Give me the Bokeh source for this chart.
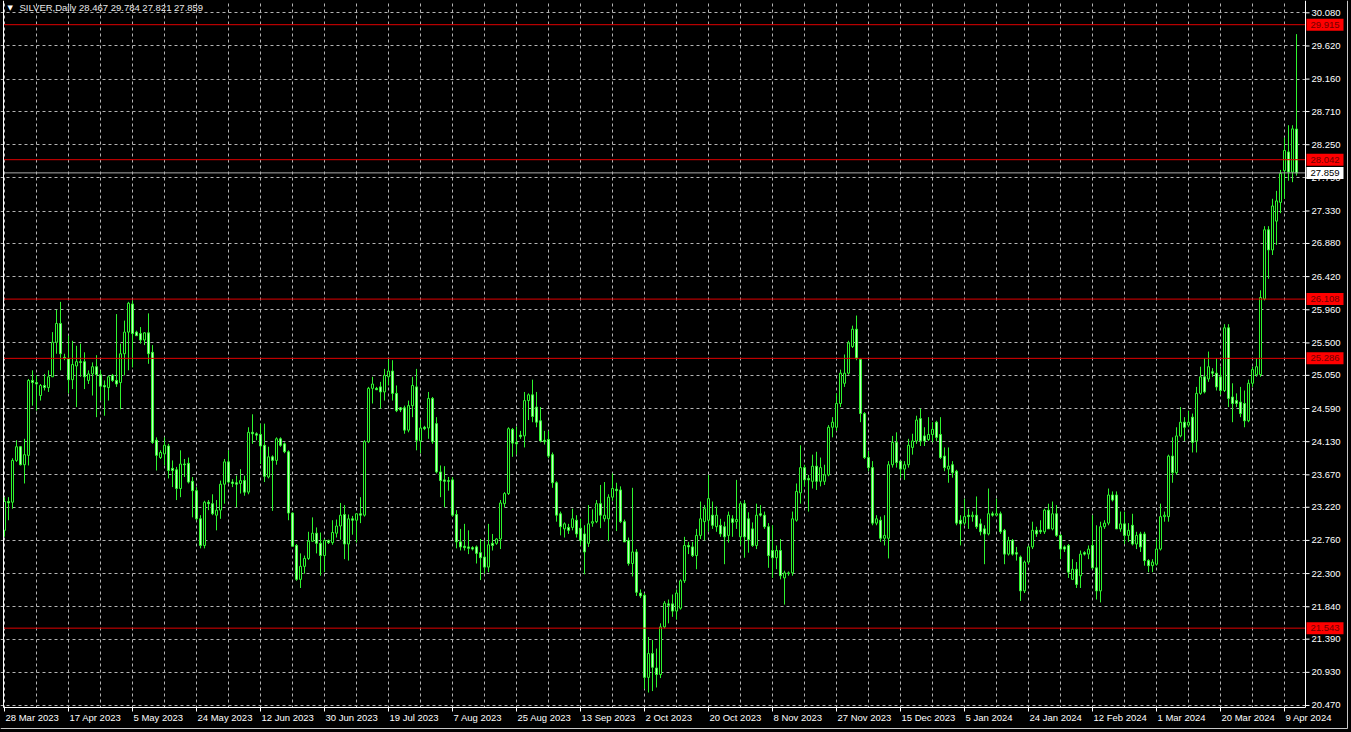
from bokeh.plotting import figure
from bokeh.models import (ColumnDataSource, FixedTicker, Range1d, Grid,
                          GlobalInlineStyleSheet)
from bokeh.core.properties import value
from bokeh.embed import file_html
from bokeh.resources import INLINE

# ---------------- data (daily OHLC) ----------------
opens = [22.90, 23.30, 23.29, 23.87, 24.06, 23.81, 23.94, 24.98, 24.95, 24.77,
         24.91, 24.88, 25.03, 25.51, 25.77, 25.30, 25.28, 24.99, 25.18, 25.24,
         25.24, 24.98, 25.07, 25.17, 25.06, 24.91, 24.88, 25.05, 24.98, 24.95,
         25.35, 25.65, 26.04, 25.65, 25.63, 25.54, 25.64, 25.37, 24.15, 23.91,
         23.96, 24.07, 23.76, 23.74, 23.48, 23.82, 23.83, 23.58, 23.45, 23.06,
         22.69, 23.29, 23.27, 23.11, 23.18, 23.54, 23.85, 23.57, 23.56, 23.55,
         23.59, 23.43, 24.26, 24.24, 24.23, 24.08, 23.64, 23.92, 23.87, 24.17,
         24.10, 23.99, 23.14, 22.69, 22.22, 22.40, 22.51, 22.75, 22.86, 22.72,
         22.55, 22.76, 22.73, 22.86, 22.96, 23.12, 22.71, 23.06, 23.04, 23.13,
         23.11, 24.13, 24.87, 24.87, 24.89, 24.82, 25.03, 25.11, 24.80, 24.60,
         24.60, 24.29, 24.63, 24.89, 24.14, 24.33, 24.32, 24.73, 24.38, 23.71,
         23.60, 23.59, 23.60, 23.12, 22.74, 22.68, 22.67, 22.66, 22.67, 22.59,
         22.53, 22.39, 22.72, 22.72, 22.78, 23.27, 23.41, 24.30, 24.12,
         24.22, 24.21, 24.70, 24.78, 24.61, 24.42, 24.15, 24.16, 23.95, 23.56,
         23.13, 22.92, 22.94, 22.94, 23.04, 22.93, 22.85, 22.72, 23.00, 23.02,
         23.27, 23.06, 23.06, 23.36, 23.47, 23.46, 23.02, 22.76, 22.44, 22.60,
         22.03, 22.00, 20.86, 21.19, 20.99, 20.90, 21.56, 21.88, 21.88, 21.78,
         21.82, 22.20, 22.69, 22.67, 22.55, 22.83, 23.02, 23.04, 23.11, 22.95,
         22.97, 22.95, 22.83, 23.06, 23.02, 22.81, 23.27, 23.06, 22.92, 22.69,
         23.13, 23.11, 22.95, 22.62, 22.52, 22.62, 22.24, 22.30, 22.31, 23.04,
         23.42, 23.77, 23.62, 23.58, 23.79, 23.58, 23.58, 23.67, 24.33, 24.33,
         24.66, 24.94, 25.08, 25.45, 25.69, 25.27, 24.52, 23.91, 23.77, 23.00,
         23.04, 22.79, 22.79, 23.81, 24.12, 23.86, 23.75, 23.81, 24.05, 24.14,
         24.45, 24.21, 24.16, 24.23, 24.40, 24.23, 23.93, 23.75, 23.81, 23.72,
         23.04, 23.00, 23.11, 23.09, 23.11, 22.99, 22.92, 22.85, 23.13, 23.11,
         23.13, 22.90, 22.57, 22.76, 22.59, 22.53, 22.06, 22.46, 22.67, 22.90,
         22.90, 22.88, 23.18, 22.92, 23.13, 22.83, 22.67, 22.69, 22.22, 22.36,
         22.27, 22.59, 22.57, 22.69, 22.38, 22.06, 22.95, 23.00, 23.39, 23.39,
         22.92, 22.99, 22.83, 22.97, 22.71, 22.85, 22.85, 22.48, 22.41, 22.43,
         22.64, 23.09, 23.09, 23.93, 23.70, 24.21, 24.40, 24.36, 24.47, 24.14,
         24.80, 25.03, 25.00, 25.10, 25.08, 25.03, 24.84, 25.71, 24.75, 24.70,
         24.68, 24.66, 24.42, 24.94, 25.06, 25.06, 26.11, 27.07, 26.79, 27.19,
         27.45, 27.89, 28.15, 27.87, 28.467]
highs = [23.36, 23.36, 23.90, 24.15, 24.07, 24.17, 25.00, 25.12, 25.05, 24.93,
         25.07, 25.12, 25.65, 25.96, 26.07, 25.35, 25.60, 25.53, 25.46, 25.49,
         25.37, 25.12, 25.23, 25.33, 25.12, 24.98, 25.05, 25.07, 25.90, 25.49,
         25.81, 26.07, 26.09, 25.67, 25.72, 25.65, 25.91, 25.47, 24.19, 24.01,
         24.19, 24.10, 23.87, 23.78, 24.01, 23.89, 23.91, 23.64, 23.50, 23.11,
         23.31, 23.32, 23.40, 23.32, 23.59, 23.89, 24.01, 23.61, 23.66, 23.75,
         23.66, 24.33, 24.51, 24.26, 24.38, 24.38, 24.06, 23.94, 24.19, 24.19,
         24.12, 24.01, 23.15, 22.71, 22.58, 22.55, 22.88, 23.08, 22.94, 22.87,
         22.78, 22.77, 23.04, 23.05, 23.28, 23.25, 23.12, 23.10, 23.13, 23.36,
         24.15, 24.89, 25.03, 24.89, 24.96, 25.14, 25.27, 25.26, 24.91, 24.61,
         24.63, 24.70, 25.03, 25.14, 24.43, 24.35, 24.82, 24.75, 24.47, 23.80,
         23.79, 23.64, 23.64, 23.18, 22.92, 22.99, 22.90, 22.68, 22.69, 22.78,
         22.76, 22.99, 22.85, 22.79, 23.32, 23.43, 24.33, 24.32, 24.34,
         24.28, 24.82, 24.80, 24.99, 24.82, 24.61, 24.28, 24.28, 23.98, 23.58,
         23.16, 23.01, 22.99, 23.20, 23.11, 23.06, 22.97, 23.25, 23.19, 23.32,
         23.53, 23.57, 23.40, 23.69, 23.56, 23.51, 23.05, 22.80, 23.49, 22.64,
         22.08, 22.03, 21.42, 21.38, 21.26, 21.61, 21.92, 21.94, 22.01, 22.08,
         22.22, 22.81, 22.74, 22.74, 22.92, 23.30, 23.25, 23.67, 23.30, 23.23,
         23.06, 23.02, 23.16, 23.11, 23.60, 23.30, 23.32, 23.15, 23.01, 23.27,
         23.25, 23.16, 23.00, 22.97, 22.69, 22.78, 22.34, 22.33, 23.16, 23.55,
         24.08, 23.81, 23.67, 23.95, 23.99, 23.91, 23.81, 24.36, 24.47, 24.80,
         25.13, 25.34, 25.53, 25.74, 25.88, 25.29, 24.54, 24.00, 23.86, 23.11,
         23.09, 23.11, 23.86, 24.21, 24.26, 23.86, 23.86, 24.17, 24.24, 24.49,
         24.59, 24.33, 24.47, 24.40, 24.42, 24.47, 24.05, 24.05, 23.86, 23.74,
         23.11, 23.34, 23.20, 23.16, 23.37, 23.06, 22.97, 23.48, 23.16, 23.34,
         23.16, 22.92, 22.81, 22.78, 22.67, 22.55, 22.48, 22.69, 23.02, 22.95,
         23.04, 23.20, 23.27, 23.30, 23.25, 22.85, 22.69, 22.71, 22.50, 22.46,
         22.62, 22.61, 22.69, 23.11, 22.97, 23.02, 23.04, 23.48, 23.44, 23.44,
         23.16, 23.16, 23.00, 23.13, 22.88, 22.88, 22.88, 22.50, 22.50, 22.78,
         23.27, 23.16, 23.95, 24.19, 24.33, 24.61, 24.47, 24.56, 24.52, 24.89,
         25.17, 25.29, 25.38, 25.15, 25.29, 25.17, 25.76, 25.76, 24.94, 24.80,
         24.89, 24.84, 24.99, 25.17, 25.29, 26.23, 27.12, 27.12, 27.50, 27.61,
         27.90, 28.35, 28.52, 28.52, 29.784]
lows = [22.81, 23.04, 23.20, 23.85, 23.80, 23.55, 23.80, 24.63, 24.56, 24.70,
        24.84, 24.82, 25.03, 25.35, 25.12, 25.26, 24.80, 24.86, 24.61, 25.03,
        24.86, 24.93, 24.77, 24.47, 24.70, 24.49, 24.70, 24.96, 24.89, 24.58,
        25.05, 25.12, 25.16, 25.60, 25.49, 25.47, 25.21, 24.10, 23.73, 23.89,
        23.80, 23.62, 23.50, 23.32, 23.36, 23.64, 23.55, 23.08, 23.04, 22.65,
        22.65, 23.18, 23.11, 22.90, 23.06, 23.27, 23.55, 23.50, 23.22, 23.41,
        23.38, 23.40, 24.10, 24.15, 23.82, 23.57, 23.62, 23.17, 23.81, 24.06,
        23.97, 23.04, 22.67, 22.20, 22.10, 22.30, 22.49, 22.74, 22.58, 22.27,
        22.32, 22.71, 22.70, 22.80, 22.77, 22.50, 22.48, 22.84, 22.73, 23.00,
        23.09, 24.11, 24.66, 24.85, 24.59, 24.70, 24.91, 24.70, 24.54, 24.54,
        24.24, 24.26, 24.47, 24.01, 23.97, 24.29, 24.17, 24.10, 23.69, 23.36,
        23.22, 23.45, 23.09, 22.65, 22.62, 22.62, 22.57, 22.62, 22.44, 22.21,
        22.30, 22.32, 22.62, 22.70, 22.64, 23.22, 23.39, 23.92, 23.95,
        24.17, 24.05, 24.43, 24.40, 24.33, 24.12, 24.09, 23.90, 23.49, 23.02,
        22.83, 22.80, 22.85, 22.90, 22.80, 22.69, 22.29, 22.67, 22.95, 23.00,
        22.93, 23.02, 22.75, 23.31, 22.89, 23.00, 22.74, 22.41, 22.26, 21.99,
        21.96, 20.70, 20.65, 20.67, 20.72, 20.85, 21.54, 21.61, 21.70, 21.66,
        21.80, 22.17, 22.57, 22.53, 22.36, 22.78, 22.76, 22.88, 22.92, 22.88,
        22.81, 22.43, 22.73, 22.81, 22.92, 22.69, 22.52, 22.59, 22.67, 22.64,
        23.09, 22.92, 22.38, 22.24, 22.36, 22.22, 21.87, 22.27, 22.27, 23.02,
        23.27, 23.51, 23.16, 23.48, 23.46, 23.51, 23.53, 23.65, 24.19, 24.28,
        24.61, 24.89, 25.06, 25.43, 25.26, 24.40, 23.89, 23.72, 22.97, 22.97,
        22.74, 22.69, 22.51, 23.77, 23.77, 23.63, 23.60, 23.77, 23.95, 24.10,
        24.07, 24.07, 24.14, 24.12, 24.14, 23.89, 23.72, 23.56, 23.63, 22.97,
        22.69, 22.97, 22.92, 23.02, 22.92, 22.83, 22.43, 22.83, 23.09, 23.11,
        22.85, 22.43, 22.55, 22.55, 22.48, 21.92, 22.03, 22.43, 22.64, 22.81,
        22.85, 22.85, 22.92, 22.90, 22.81, 22.50, 22.60, 22.24, 22.22, 22.10,
        22.10, 22.55, 22.50, 22.36, 21.94, 21.90, 22.92, 22.97, 23.30, 22.92,
        22.88, 22.71, 22.74, 22.69, 22.64, 22.60, 22.41, 22.32, 22.32, 22.41,
        22.62, 23.02, 23.02, 23.56, 23.67, 24.19, 24.14, 24.33, 23.98, 23.98,
        24.78, 24.80, 24.96, 25.03, 24.84, 24.78, 24.82, 24.61, 24.40, 24.61,
        24.47, 24.33, 24.40, 24.89, 25.03, 25.03, 26.09, 26.39, 26.72, 26.86,
        27.30, 27.50, 27.75, 27.73, 27.821]
closes = [23.30, 23.28, 23.87, 24.06, 23.81, 23.95, 24.98, 24.95, 24.93, 24.91,
          24.88, 25.03, 25.51, 25.77, 25.35, 25.29, 24.99, 25.20, 25.24, 25.23,
          25.03, 25.07, 25.17, 25.06, 24.90, 24.89, 25.03, 24.98, 24.93, 25.35,
          25.65, 26.05, 25.63, 25.60, 25.54, 25.64, 25.35, 24.12, 23.94, 23.98,
          24.08, 23.73, 23.73, 23.48, 23.82, 23.81, 23.57, 23.45, 23.06, 22.69,
          23.29, 23.27, 23.13, 23.18, 23.54, 23.85, 23.57, 23.55, 23.54, 23.59,
          23.43, 24.26, 24.24, 24.22, 24.07, 23.65, 23.92, 23.87, 24.17, 24.08,
          23.99, 23.14, 22.68, 22.22, 22.40, 22.51, 22.75, 22.86, 22.72, 22.55,
          22.76, 22.73, 22.87, 22.96, 23.11, 22.71, 23.06, 23.04, 23.13, 23.11,
          24.13, 24.87, 24.93, 24.85, 24.82, 25.05, 25.11, 24.80, 24.56, 24.57,
          24.29, 24.63, 24.91, 24.15, 24.32, 24.31, 24.73, 24.13, 23.71, 23.59,
          23.58, 23.58, 23.11, 22.74, 22.67, 22.66, 22.65, 22.64, 22.58, 22.52,
          22.39, 22.70, 22.69, 22.78, 23.28, 23.41, 24.31, 24.11, 24.10,
          24.20, 24.70, 24.78, 24.48, 24.40, 24.14, 24.13, 23.93, 23.56, 23.11,
          22.95, 22.99, 22.90, 23.06, 22.85, 22.76, 22.60, 22.99, 23.02, 23.27,
          23.11, 23.11, 23.36, 23.48, 23.45, 23.02, 22.74, 22.44, 22.60, 22.04,
          21.99, 20.86, 21.19, 21.00, 20.90, 21.56, 21.89, 21.86, 21.78, 22.03,
          22.20, 22.69, 22.67, 22.55, 22.83, 23.06, 23.20, 23.34, 22.97, 23.11,
          22.85, 22.81, 23.11, 23.01, 23.05, 23.27, 22.81, 22.77, 22.69, 23.11,
          23.11, 22.95, 22.55, 22.52, 22.62, 22.27, 22.31, 22.31, 23.06, 23.44,
          23.77, 23.60, 23.60, 23.79, 23.58, 23.77, 23.67, 24.33, 24.40, 24.66,
          25.08, 25.08, 25.50, 25.69, 25.29, 24.52, 23.91, 23.77, 23.00, 23.06,
          22.79, 22.83, 23.81, 24.12, 23.84, 23.75, 23.81, 24.08, 24.14, 24.43,
          24.14, 24.14, 24.23, 24.30, 24.19, 23.91, 23.77, 23.79, 23.70, 23.00,
          22.99, 23.09, 23.09, 23.11, 22.95, 22.88, 22.85, 23.13, 23.11, 23.13,
          22.88, 22.57, 22.76, 22.57, 22.57, 22.06, 22.46, 22.67, 22.90, 22.85,
          22.88, 23.18, 22.92, 23.13, 22.83, 22.64, 22.64, 22.32, 22.36, 22.15,
          22.57, 22.57, 22.64, 22.38, 22.06, 22.95, 23.00, 23.39, 23.32, 22.92,
          22.99, 22.83, 22.90, 22.71, 22.83, 22.67, 22.48, 22.41, 22.46, 22.64,
          23.09, 23.11, 23.93, 23.70, 24.21, 24.40, 24.33, 24.40, 24.12, 24.80,
          25.03, 24.82, 25.17, 25.08, 24.89, 24.84, 25.71, 24.73, 24.66, 24.66,
          24.52, 24.42, 24.94, 25.13, 25.17, 26.13, 27.07, 26.79, 27.40, 27.47,
          27.85, 28.17, 27.87, 28.47, 27.859]

date_labels = ["28 Mar 2023", "17 Apr 2023", "5 May 2023", "24 May 2023",
               "12 Jun 2023", "30 Jun 2023", "19 Jul 2023", "7 Aug 2023",
               "25 Aug 2023", "13 Sep 2023", "2 Oct 2023", "20 Oct 2023",
               "8 Nov 2023", "27 Nov 2023", "15 Dec 2023", "5 Jan 2024",
               "24 Jan 2024", "12 Feb 2024", "1 Mar 2024", "20 Mar 2024",
               "9 Apr 2024"]
date_label_bars = [0, 16, 32, 48, 64, 80, 96, 112, 128, 144, 160, 176, 192,
                   208, 224, 240, 256, 272, 288, 304, 320]
price_ticks = [20.470, 20.930, 21.390, 21.840, 22.300, 22.760, 23.220, 23.670,
               24.130, 24.590, 25.050, 25.500, 25.960, 26.420, 26.880, 27.330,
               27.790, 28.250, 28.710, 29.160, 29.620, 30.080]
levels = [29.915, 28.042, 26.108, 25.286, 21.543]
last_price = 27.859
symbol_text = "SILVER,Daily"
header_values = [28.467, 29.784, 27.821, 27.859]

# ---------------- layout helpers (pixel -> data) ----------------
W, H = 1351, 732
BAR_PX = 4.0
PX_PER_PRICE = 72.08
def X(px):      # page x pixel -> bar coordinate (bar 0 at x = 4)
    return (px - 4.0) / BAR_PX
def Y(py):      # page y pixel -> price coordinate
    return 30.08 - (py - 12.3) / PX_PER_PRICE

GREEN = "#2ef52e"
BEAR_FILL = "#c4ffc4"
GRID = "#b4b4b4"
RED = "#e00000"
FONT = "Liberation Sans"
FSIZE = "9.5px"

AX = X(1305)     # right (price) axis line
YB = Y(707)      # bottom (time) axis line
XL = X(3)        # left frame edge

n = min(len(opens), len(highs), len(lows), len(closes))
src = ColumnDataSource(dict(
    x=list(range(n)), o=opens[:n], h=highs[:n], l=lows[:n], c=closes[:n],
    top=[max(a, b) for a, b in zip(opens[:n], closes[:n])],
    bottom=[min(a, b) for a, b in zip(opens[:n], closes[:n])],
    fill=["black" if c >= o else BEAR_FILL for o, c in zip(opens[:n], closes[:n])],
))

p = figure(width=W, height=H, output_backend="svg", toolbar_location=None,
           x_range=Range1d(X(0), X(W)), y_range=Range1d(Y(H), Y(0)),
           background_fill_color="black", border_fill_color="black",
           min_border=0, x_axis_location=None, y_axis_location=None,
           outline_line_color=None)
p.stylesheets = [GlobalInlineStyleSheet(css="body{background-color:#000;}")]
# drop the default grids, add the chart's own dotted grid
p.center = [r for r in p.center if not isinstance(r, Grid)]
p.add_layout(Grid(dimension=0, ticker=FixedTicker(ticks=list(range(0, 336, 8))),
                  grid_line_color=GRID, grid_line_dash="3 3"))
p.add_layout(Grid(dimension=1, ticker=FixedTicker(ticks=price_ticks),
                  grid_line_color=GRID, grid_line_dash="3 3"))

# candles
p.segment(x0="x", y0="l", x1="x", y1="h", source=src, line_color=GREEN, line_width=1)
p.vbar(x="x", width=0.5, top="top", bottom="bottom", source=src,
       fill_color="fill", line_color=GREEN, line_width=1)

# margins outside the chart area (price scale on the right, time scale below)
p.quad(left=[AX], right=[X(W)], bottom=[Y(H)], top=[Y(0)],
       fill_color="black", line_color=None)
p.quad(left=[X(0)], right=[X(W)], bottom=[Y(H)], top=[YB],
       fill_color="black", line_color=None)

# horizontal levels and bid line
p.segment(x0=[XL] * len(levels), x1=[AX] * len(levels), y0=levels, y1=levels,
          line_color=RED, line_width=1)
p.segment(x0=[XL], x1=[AX], y0=[last_price], y1=[last_price],
          line_color="#a8a8a8", line_width=1)

# frame lines
p.segment(x0=[XL, AX, XL], x1=[XL, AX, AX], y0=[YB, YB, YB], y1=[Y(0), Y(0), YB],
          line_color="white", line_width=1)
# outer window border
p.segment(x0=[X(1347), X(0)], x1=[X(1347), X(1347)],
          y0=[Y(0), Y(728)], y1=[Y(728), Y(728)],
          line_color="#c8c8c8", line_width=1)

# price scale: ticks and labels
p.segment(x0=[AX] * len(price_ticks), x1=[X(1309)] * len(price_ticks),
          y0=price_ticks, y1=price_ticks, line_color="white", line_width=1)
p.text(x=[X(1311)] * len(price_ticks), y=price_ticks,
       text=[f"{v:.3f}" for v in price_ticks], text_color="white",
       text_font=value(FONT), text_font_size=FSIZE,
       text_align="left", text_baseline="middle")

# time scale: ticks and labels
p.segment(x0=date_label_bars, x1=date_label_bars,
          y0=[YB] * len(date_label_bars), y1=[Y(711)] * len(date_label_bars),
          line_color="white", line_width=1)
p.text(x=[b + 0.25 for b in date_label_bars], y=[Y(711.5)] * len(date_label_bars),
       text=date_labels, text_color="white",
       text_font=value(FONT), text_font_size=FSIZE,
       text_align="left", text_baseline="top")

# level price boxes
half = 6.0 / PX_PER_PRICE
p.quad(left=[X(1306)] * len(levels), right=[X(1343)] * len(levels),
       bottom=[v - half for v in levels], top=[v + half for v in levels],
       fill_color="#ff0000", line_color=None)
p.text(x=[X(1324.5)] * len(levels), y=levels, text=[f"{v:.3f}" for v in levels],
       text_color="#700000", text_font=value(FONT), text_font_size=FSIZE,
       text_align="center", text_baseline="middle")
p.quad(left=[X(1306)], right=[X(1343)], bottom=[last_price - half],
       top=[last_price + half], fill_color="white", line_color=None)
p.text(x=[X(1324.5)], y=[last_price], text=[f"{last_price:.3f}"],
       text_color="black", text_font=value(FONT), text_font_size=FSIZE,
       text_align="center", text_baseline="middle")

# header
p.text(x=[X(7)], y=[Y(7)], text=["\u25bc"], text_color="white",
       text_font=value("DejaVu Sans"), text_font_size="7px",
       text_align="left", text_baseline="middle")
p.text(x=[X(19)], y=[Y(7)],
       text=[symbol_text + "  " + " ".join(f"{v:.3f}" for v in header_values)],
       text_color="#e8e8e8", text_font=value(FONT), text_font_size=FSIZE,
       text_align="left", text_baseline="middle")

open("out.html", "w").write(file_html(p, INLINE))
